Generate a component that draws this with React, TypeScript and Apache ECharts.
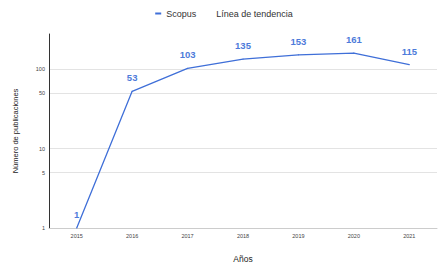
import React, { useEffect, useRef } from "react";
import * as echarts from "echarts";

const years = ["2015", "2016", "2017", "2018", "2019", "2020", "2021"];
const scopus = [1, 53, 103, 135, 153, 161, 115];
const yTicks = [1, 5, 10, 50, 100];

const FONT = "Liberation Sans, Arial, sans-serif";
const BLUE = "#3f6fd8";

export default function App() {
  const ref = useRef<HTMLDivElement>(null);
  useEffect(() => {
    const chart = echarts.init(ref.current!, null, { renderer: "svg" });
    chart.setOption({
      animation: false,
      legend: {
        top: 9,
        left: "center",
        padding: [0, 5],
        itemWidth: 6,
        itemHeight: 2,
        itemGap: 9,
        textStyle: { fontFamily: FONT, fontSize: 9, color: "#333" },
        data: [
          { name: "Scopus", icon: "rect", itemStyle: { color: BLUE, opacity: 1 } },
          { name: "Línea de tendencia", icon: "none" },
        ],
      },
      grid: { left: 49, right: 11, top: 34, bottom: 46 },
      xAxis: {
        type: "category",
        data: years,
        name: "Años",
        nameLocation: "middle",
        nameGap: 26,
        nameTextStyle: { fontFamily: FONT, fontSize: 8.5, color: "#222" },
        axisLine: { lineStyle: { color: "#ccc" } },
        axisTick: { show: false },
        axisLabel: { fontFamily: FONT, fontSize: 5.5, color: "#444", margin: 5 },
      },
      yAxis: {
        type: "log",
        logBase: 10,
        min: 1,
        max: 280,
        name: "Número de publicaciones",
        nameLocation: "middle",
        nameGap: 30,
        nameTextStyle: { fontFamily: FONT, fontSize: 7.5, color: "#222" },
        axisLine: { show: true, lineStyle: { color: "#333" } },
        axisTick: { show: false, customValues: yTicks },
        axisLabel: { fontFamily: FONT, fontSize: 5.5, color: "#444", margin: 4, customValues: yTicks },
        splitLine: { show: true, lineStyle: { color: "#e3e3e3" } },
      },
      series: [
        {
          name: "Scopus",
          type: "line",
          data: scopus,
          symbol: "circle",
          symbolSize: 1,
          showSymbol: true,
          lineStyle: { color: BLUE, width: 1.3 },
          itemStyle: { color: BLUE },
          label: {
            show: true,
            position: "top",
            distance: 8,
            fontFamily: FONT,
            fontSize: 9.5,
            fontWeight: "bold",
            color: "#4d7bda",
          },
        },
        {
          name: "Línea de tendencia",
          type: "line",
          data: [],
          itemStyle: { color: "rgba(0,0,0,0)" },
        },
      ],
    });
    return () => chart.dispose();
  }, []);
  return (
    <div
      ref={ref}
      style={{ position: "absolute", left: 0, top: 0, width: 448, height: 274 }}
    />
  );
}
